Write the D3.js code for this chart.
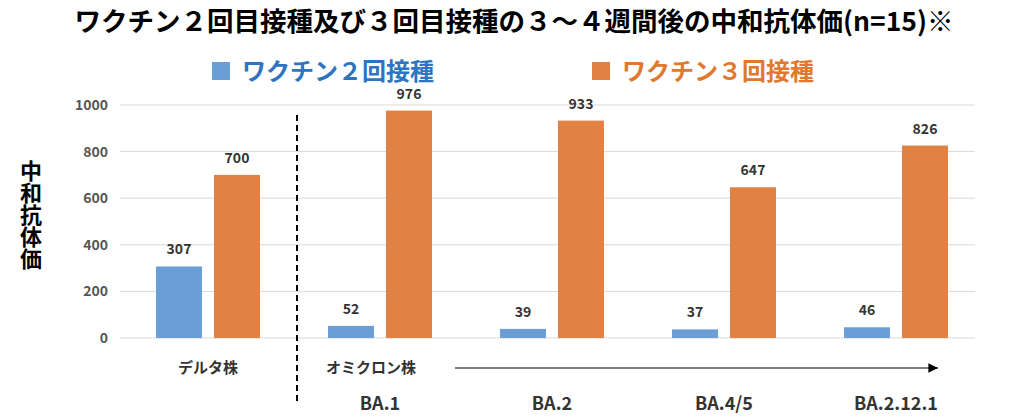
<!DOCTYPE html>
<html><head><meta charset="utf-8">
<script src="https://cdn.jsdelivr.net/npm/d3@7"></script>
<style>body{margin:0;background:#fff;font-family:"Noto Sans CJK JP","Noto Sans",sans-serif}</style>
</head><body><div id="chart"></div>
<script>
const categories = ['デルタ株', 'BA.1', 'BA.2', 'BA.4/5', 'BA.2.12.1'];
const dose2 = [307, 52, 39, 37, 46];
const dose3 = [700, 976, 933, 647, 826];
const yTicks = [0, 200, 400, 600, 800, 1000];
const seriesNames = ['ワクチン２回接種', 'ワクチン３回接種'];
const colors = ['#6a9ed5', '#e08243'];
const textColors = ['#2f74c0', '#e0782f'];

const svg = d3.select('#chart').append('svg').attr('width', 1024).attr('height', 417);

const x = d3.scaleBand().domain(categories).range([122, 982]);
const y = d3.scaleLinear().domain([0, 1000]).range([338, 105]);

// grid
yTicks.forEach(t => {
    svg.append('line').attr('x1', 120).attr('x2', 975)
        .attr('y1', y(t)).attr('y2', y(t)).attr('stroke', '#d9d9d9');
    svg.append('text').attr('x', 108).attr('y', y(t) + 5).attr('text-anchor', 'end')
        .attr('font-size', 14).attr('font-weight', 'bold').attr('fill', '#555').text(t);
});

const bw = 46, gap = 12;
categories.forEach((c, i) => {
    const cx = x(c) + x.bandwidth() / 2;
    [dose2[i], dose3[i]].forEach((v, k) => {
        const bx = k == 0 ? cx - gap / 2 - bw : cx + gap / 2;
        svg.append('rect').attr('x', bx).attr('y', y(v)).attr('width', bw)
            .attr('height', y(0) - y(v)).attr('fill', colors[k]);
        svg.append('text').attr('x', bx + bw / 2).attr('y', y(v) - 12).attr('text-anchor', 'middle')
            .attr('font-size', 14).attr('font-weight', 'bold').attr('fill', '#333').text(v);
    });
    if (i > 0) {
        svg.append('text').attr('x', cx).attr('y', 410).attr('text-anchor', 'middle')
            .attr('font-size', 18).attr('font-weight', 'bold').attr('fill', '#333').text(c);
    } else {
        svg.append('text').attr('x', cx).attr('y', 373).attr('text-anchor', 'middle')
            .attr('font-size', 15).attr('font-weight', 'bold').attr('fill', '#333').text(c);
    }
});

// divider and omicron arrow
svg.append('line').attr('x1', 297).attr('x2', 297).attr('y1', 115).attr('y2', 402)
    .attr('stroke', '#000').attr('stroke-width', 2).attr('stroke-dasharray', '6,4');
svg.append('text').attr('x', 326).attr('y', 373).attr('font-size', 15).attr('font-weight', 'bold')
    .attr('fill', '#333').text('オミクロン株');
svg.append('defs').append('marker').attr('id', 'ar').attr('viewBox', '0 0 10 10')
    .attr('refX', 10).attr('refY', 5).attr('markerWidth', 8).attr('markerHeight', 8).attr('orient', 'auto')
    .append('path').attr('d', 'M0,0L10,5L0,10z').attr('fill', '#000');
svg.append('line').attr('x1', 455).attr('x2', 938).attr('y1', 368).attr('y2', 368)
    .attr('stroke', '#000').attr('stroke-width', 1.2).attr('marker-end', 'url(#ar)');

// title
svg.append('text').attr('x', 514).attr('y', 31).attr('text-anchor', 'middle')
    .attr('font-size', 26.5).attr('font-weight', 'bold').attr('fill', '#000')
    .text('ワクチン２回目接種及び３回目接種の３～４週間後の中和抗体価(n=15)※');

// legend
[[212, 0], [592, 1]].forEach(([lx, k]) => {
    svg.append('rect').attr('x', lx).attr('y', 62).attr('width', 18).attr('height', 18).attr('fill', colors[k]);
    svg.append('text').attr('x', lx + 30).attr('y', 80).attr('font-size', 24).attr('font-weight', 'bold')
        .attr('fill', textColors[k]).text(seriesNames[k]);
});

// y label
svg.append('text').attr('x', 31).attr('y', 160).attr('font-size', 22).attr('font-weight', 'bold')
    .style('writing-mode', 'vertical-rl').attr('fill', '#000').text('中和抗体価');
</script></body></html>
